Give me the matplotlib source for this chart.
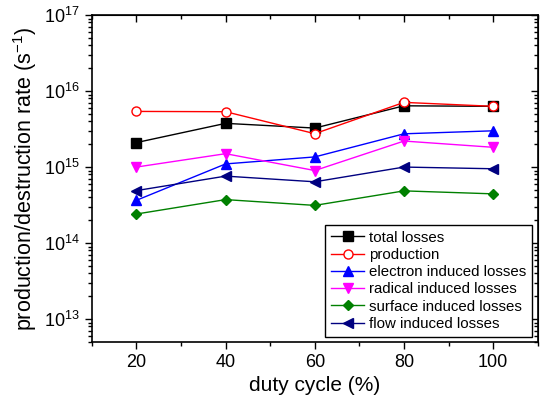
import matplotlib.pyplot as plt
from matplotlib.ticker import LogLocator, MultipleLocator, NullFormatter

plt.rcParams["font.family"] = ["Liberation Sans", "DejaVu Sans"]
plt.rcParams["mathtext.fontset"] = "custom"
plt.rcParams["mathtext.rm"] = "Liberation Sans"

duty = [20, 40, 60, 80, 100]
total_losses = [2.1e15, 3.76e15, 3.26e15, 6.4e15, 6.3e15]
production = [5.4e15, 5.35e15, 2.75e15, 7.1e15, 6.3e15]
electron_losses = [3.65e14, 1.1e15, 1.36e15, 2.74e15, 3.0e15]
radical_losses = [1.0e15, 1.5e15, 9.0e14, 2.2e15, 1.82e15]
surface_losses = [2.41e14, 3.73e14, 3.13e14, 4.86e14, 4.44e14]
flow_losses = [4.9e14, 7.6e14, 6.4e14, 1.0e15, 9.5e14]

series = [
    ("total losses", total_losses, "black", "s", "black"),
    ("production", production, "red", "o", "white"),
    ("electron induced losses", electron_losses, "blue", "^", "blue"),
    ("radical induced losses", radical_losses, "magenta", "v", "magenta"),
    ("surface induced losses", surface_losses, "green", "D", "green"),
    ("flow induced losses", flow_losses, "navy", "<", "navy"),
]

fig = plt.figure(figsize=(5.4, 4.08), dpi=100)
ax = fig.add_axes([0.170, 0.162, 0.826, 0.801])

for label, vals, color, marker, face in series:
    ms = 5.2 if marker == "D" else 6.5
    ax.plot(duty, vals, color=color, marker=marker, markersize=ms,
            markerfacecolor=face, markeredgecolor=color, linewidth=1,
            label=label)

ax.set_yscale("log")
ax.set_xlim(10, 110)
ax.set_ylim(5e12, 1e17)
ax.xaxis.set_major_locator(MultipleLocator(20))
ax.xaxis.set_minor_locator(MultipleLocator(10))
ax.yaxis.set_major_locator(LogLocator(base=10, numticks=10))
ax.yaxis.set_minor_locator(LogLocator(base=10, subs=range(2, 10), numticks=20))
ax.yaxis.set_minor_formatter(NullFormatter())

ax.tick_params(axis="both", which="major", labelsize=13, length=5, width=1,
               direction="out")
ax.tick_params(axis="both", which="minor", length=3, width=1,
               direction="out")
for spine in ax.spines.values():
    spine.set_linewidth(1.2)

# mirrored ticks on the top and right edges point inward
top = ax.secondary_xaxis("top")
top.xaxis.set_major_locator(MultipleLocator(20))
top.xaxis.set_minor_locator(MultipleLocator(10))
top.tick_params(which="major", direction="in", length=5, width=1, labeltop=False)
top.tick_params(which="minor", direction="in", length=3, width=1)
right = ax.secondary_yaxis("right")
right.yaxis.set_major_locator(LogLocator(base=10, numticks=10))
right.yaxis.set_minor_locator(LogLocator(base=10, subs=range(2, 10), numticks=20))
right.yaxis.set_minor_formatter(NullFormatter())
right.tick_params(which="major", direction="in", length=5, width=1, labelright=False)
right.tick_params(which="minor", direction="in", length=3, width=1)

ax.set_xlabel("duty cycle (%)", fontsize=15)
ax.set_ylabel(r"production/destruction rate ($\mathregular{s^{-1}}$)", fontsize=15.5)

leg = ax.legend(loc="lower right", bbox_to_anchor=(0.987, 0.015),
                borderaxespad=0, fontsize=10.8, fancybox=False,
                edgecolor="black", framealpha=1, handlelength=2.2,
                handletextpad=0.3, labelspacing=0.22, borderpad=0.4)
leg.get_frame().set_linewidth(1)

fig.savefig("out.png", dpi=100)
